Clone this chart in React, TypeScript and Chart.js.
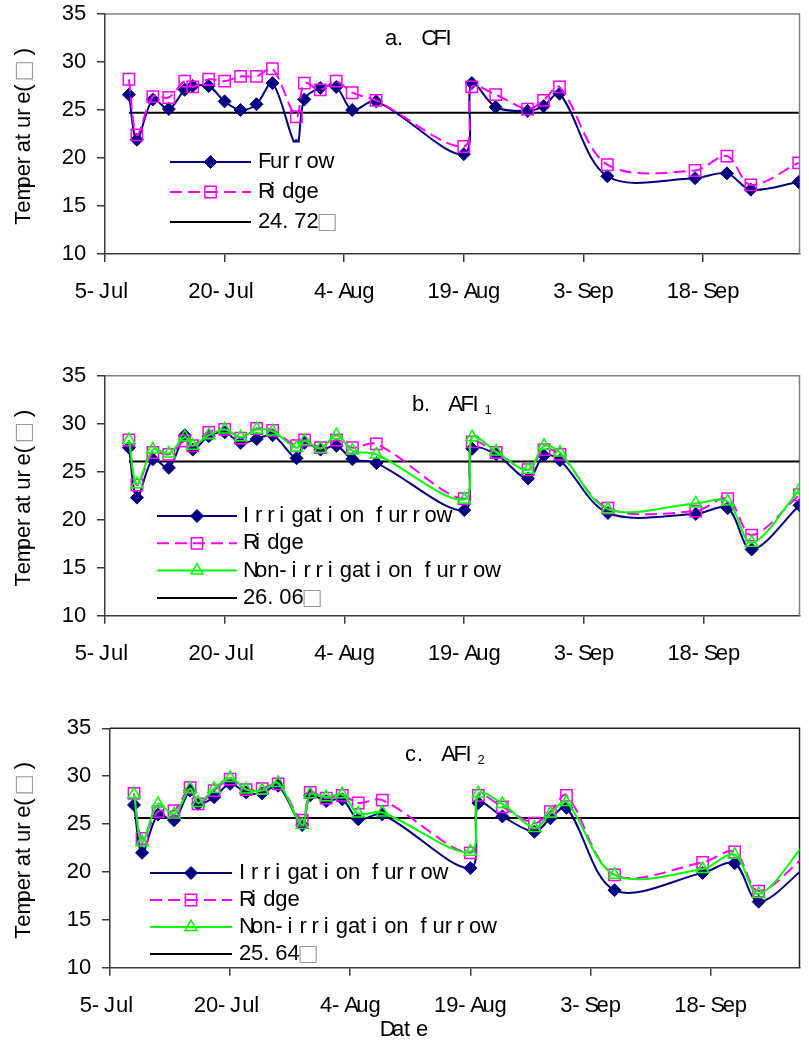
import React, { useEffect, useRef } from 'react';
import { Chart, registerables } from 'chart.js';

Chart.register(...registerables);

// Measurement dates of the season
const dates = ['8-Jul', '9-Jul', '11-Jul', '13-Jul', '15-Jul', '16-Jul', '18-Jul', '20-Jul', '22-Jul', '24-Jul', '26-Jul', '29-Jul', '30-Jul', '1-Aug', '3-Aug', '5-Aug', '8-Aug', '19-Aug', '20-Aug', '23-Aug', '27-Aug', '29-Aug', '31-Aug', '6-Sep', '17-Sep', '21-Sep', '24-Sep', '30-Sep'];
const tickLabels = ['5-Jul', '20-Jul', '4-Aug', '19-Aug', '3-Sep', '18-Sep'];
const yTicks = { min: 10, max: 35, step: 5 };

// a. CFI
const cfiFurrow = [26.6, 21.9, 26.1, 25.1, 27.1, 27.5, 27.5, 25.9, 25.0, 25.6, 27.8, 21.3, 26.1, 27.3, 27.4, 25.0, 25.9, 20.4, 27.8, 25.3, 24.9, 25.4, 26.7, 18.1, 17.9, 18.4, 16.7, 17.5];
const cfiRidge = [28.2, 22.4, 26.4, 26.3, 28.0, 27.4, 28.2, 28.0, 28.5, 28.5, 29.3, 24.3, 27.8, 27.1, 28.0, 26.8, 26.0, 21.2, 27.4, 26.6, 25.1, 26.0, 27.4, 19.3, 18.7, 20.2, 17.2, 19.5];
const cfiMean = 24.72;

// b. AFI1
const afi1Irrigated = [27.5, 22.3, 26.3, 25.4, 28.8, 27.3, 28.7, 29.1, 28.0, 28.4, 28.8, 26.4, 28.0, 27.3, 27.7, 26.3, 25.9, 21.0, 27.4, 26.8, 24.3, 26.7, 26.2, 20.7, 20.6, 21.2, 16.9, 21.5];
const afi1Ridge = [28.3, 23.6, 27.0, 26.8, 28.2, 27.7, 29.1, 29.4, 28.5, 29.5, 29.3, 27.7, 28.3, 27.5, 28.3, 27.5, 27.9, 22.2, 28.1, 27.0, 25.2, 27.3, 26.8, 21.2, 20.9, 22.2, 18.4, 22.6];
const afi1NonIrrigated = [28.3, 23.7, 27.3, 26.9, 28.6, 27.7, 28.8, 29.4, 28.6, 29.4, 29.2, 27.5, 28.2, 27.4, 28.8, 27.2, 26.8, 22.1, 28.6, 27.1, 25.2, 27.7, 27.0, 21.1, 21.7, 21.9, 17.6, 23.1];
const afi1Mean = 26.06;

// c. AFI2
const afi2Irrigated = [27.0, 22.0, 26.0, 25.4, 28.5, 27.1, 27.8, 29.2, 28.3, 28.2, 29.0, 24.9, 28.0, 27.4, 27.6, 25.5, 26.0, 20.4, 27.2, 25.8, 24.2, 25.6, 26.7, 18.1, 19.9, 20.9, 16.9, 20.6];
const afi2Ridge = [28.2, 23.5, 26.3, 26.4, 28.8, 27.1, 28.5, 29.7, 28.6, 28.7, 29.2, 25.4, 28.3, 27.7, 28.0, 27.2, 27.5, 22.0, 28.0, 26.8, 25.1, 26.3, 28.0, 19.7, 21.0, 22.1, 18.0, 21.8];
const afi2NonIrrigated = [28.1, 23.1, 27.1, 26.0, 28.7, 27.2, 28.7, 29.8, 28.6, 28.5, 29.3, 24.9, 28.1, 27.8, 28.1, 26.1, 26.2, 22.1, 28.2, 27.1, 24.6, 26.1, 27.3, 19.7, 20.3, 21.8, 17.7, 23.2];
const afi2Mean = 25.64;

// day offset counted from 5 July
const MONTH_OFFSET: Record<string, number> = { Jul: 0, Aug: 31, Sep: 62 };
const dayOf = (s: string) => {
  const [d, m] = s.split('-');
  return Number(d) + MONTH_OFFSET[m] - 5;
};
const days = dates.map(dayOf);
const tickDays = tickLabels.map(dayOf);

const FONT = '"Liberation Sans", Arial, Helvetica, sans-serif';
const TEXT_SIZE = 22;
const CELL = 12.1; // fixed character pitch for 22px text
const AXIS_COLOR = '#3a3a3a';

const STYLES: Record<string, any> = {
  furrow: { color: '#000080', point: 'rectRot', radius: 6.5, filled: true, dash: [], order: 2 },
  ridge: { color: '#FF00FF', point: 'rect', radius: 8, filled: false, dash: [12, 6], order: 1 },
  nonIrr: { color: '#00FF00', point: 'triangle', radius: 7, filled: false, dash: [], order: 0 },
};

const PANELS = [
  {
    canvasTop: 0, canvasH: 345, left: 105, right: 808, top: 14, bottom: 254, xMax: 87.1, frame: '#808080',
    title: 'a. CFI', sub: '', titleX: 385, titleY: 39,
    series: [
      { name: 'Furrow', style: 'furrow', values: cfiFurrow },
      { name: 'Ridge', style: 'ridge', values: cfiRidge },
    ],
    mean: cfiMean,
    legend: { x1: 170, x2: 251, tx: 258, y0: 162, gap: 30, filled: true },
    dateTitle: false,
  },
  {
    canvasTop: 345, canvasH: 345, left: 105, right: 807, top: 30.7, bottom: 270.7, xMax: 87.0, frame: '#808080',
    title: 'b. AFI', sub: '1', titleX: 412, titleY: 60,
    series: [
      { name: 'Irrigation furrow', style: 'furrow', values: afi1Irrigated },
      { name: 'Ridge', style: 'ridge', values: afi1Ridge },
      { name: 'Non-irrigation furrow', style: 'nonIrr', values: afi1NonIrrigated },
    ],
    mean: afi1Mean,
    legend: { x1: 157, x2: 237, tx: 243, y0: 171, gap: 27.3, filled: false },
    dateTitle: false,
  },
  {
    canvasTop: 690, canvasH: 352, left: 110, right: 809, top: 38.3, bottom: 277.7, xMax: 86.1, frame: '#202020',
    title: 'c. AFI', sub: '2', titleX: 405, titleY: 65,
    series: [
      { name: 'Irrigation furrow', style: 'furrow', values: afi2Irrigated },
      { name: 'Ridge', style: 'ridge', values: afi2Ridge },
      { name: 'Non-irrigation furrow', style: 'nonIrr', values: afi2NonIrrigated },
    ],
    mean: afi2Mean,
    legend: { x1: 150, x2: 232, tx: 239, y0: 183, gap: 27, filled: false },
    dateTitle: true,
  },
];

const cellCount = (text: string) => [...text].reduce((n, ch) => n + (ch === '□' ? 2 : 1), 0);

// Text laid out on a fixed character pitch; the degree box takes a double cell.
function drawPitched(ctx: CanvasRenderingContext2D, text: string, x: number, y: number, align = 'left', size = TEXT_SIZE, cell = CELL) {
  ctx.save();
  ctx.font = `${size}px ${FONT}`;
  ctx.textBaseline = 'middle';
  ctx.textAlign = 'left';
  let cx = x;
  const w = cellCount(text) * cell;
  if (align === 'center') cx = x - w / 2;
  if (align === 'right') cx = x - w;
  for (const ch of text) {
    if (ch === '□') {
      ctx.fillStyle = '#9a9a9a';
      ctx.font = `${Math.round(size * 1.3)}px ${FONT}`;
      ctx.fillText(ch, cx, y + 1);
      ctx.font = `${size}px ${FONT}`;
      cx += 2 * cell;
    } else {
      ctx.fillStyle = '#000';
      ctx.fillText(ch, cx, y);
      cx += cell;
    }
  }
  ctx.restore();
}

function drawMarker(ctx: CanvasRenderingContext2D, st: any, x: number, y: number) {
  ctx.save();
  ctx.setLineDash([]);
  ctx.strokeStyle = st.color;
  ctx.fillStyle = st.color;
  ctx.beginPath();
  const r = st.radius;
  if (st.point === 'rectRot') {
    ctx.moveTo(x - r, y); ctx.lineTo(x, y - r); ctx.lineTo(x + r, y); ctx.lineTo(x, y + r); ctx.closePath();
    ctx.lineWidth = 1; ctx.fill(); ctx.stroke();
  } else if (st.point === 'rect') {
    const h = Math.SQRT1_2 * r;
    ctx.rect(x - h, y - h, 2 * h, 2 * h);
    ctx.lineWidth = 1.5; ctx.stroke();
  } else {
    const step = (2 * Math.PI) / 3;
    ctx.moveTo(x, y - r);
    ctx.lineTo(x + Math.sin(step) * r, y - Math.cos(step) * r);
    ctx.lineTo(x + Math.sin(2 * step) * r, y - Math.cos(2 * step) * r);
    ctx.closePath();
    ctx.lineWidth = 1.5; ctx.stroke();
  }
  ctx.restore();
}

function makePlugin(p: any) {
  return {
    id: 'panelDecor',
    beforeDatasetsDraw(chart: any) {
      const { ctx, chartArea: a } = chart;
      ctx.save();
      ctx.strokeStyle = p.frame;
      ctx.lineWidth = 1.5;
      ctx.beginPath();
      ctx.moveTo(a.left, a.top);
      ctx.lineTo(a.right, a.top);
      ctx.lineTo(a.right, a.bottom);
      ctx.stroke();
      ctx.restore();
    },
    afterDraw(chart: any) {
      const { ctx, chartArea: a } = chart;
      const xs = chart.scales.x;
      const ys = chart.scales.y;

      xs.ticks.forEach((t: any, i: number) => {
        drawPitched(ctx, tickLabels[i], xs.getPixelForValue(t.value), a.bottom + 38, 'center');
      });
      ys.ticks.forEach((t: any) => {
        drawPitched(ctx, String(t.value), a.left - 19, ys.getPixelForValue(t.value), 'right');
      });

      // y-axis title
      ctx.save();
      ctx.translate(24, (a.top + a.bottom) / 2);
      ctx.rotate(-Math.PI / 2);
      drawPitched(ctx, 'Temperature(□)', 0, 0, 'center');
      ctx.restore();

      if (p.dateTitle) drawPitched(ctx, 'Date', 404, a.bottom + 62, 'center');

      // panel title with subscript
      drawPitched(ctx, p.title, p.titleX, p.titleY);
      if (p.sub) {
        drawPitched(ctx, p.sub, p.titleX + cellCount(p.title) * CELL, p.titleY + 5, 'left', 13, 7.5);
      }

      // legend
      const L = p.legend;
      const entries = [
        ...p.series.map((s: any) => ({ label: s.name, st: STYLES[s.style] })),
        { label: `${p.mean.toFixed(2)}□`, st: null },
      ];
      if (L.filled) {
        const maxCells = Math.max(...entries.map((e) => cellCount(e.label)));
        const top = L.y0 - L.gap * 0.65;
        const bottom = L.y0 + (entries.length - 1) * L.gap + L.gap * 0.6;
        ctx.save();
        ctx.fillStyle = '#fff';
        ctx.fillRect(L.x1 - 6, top, L.tx + maxCells * CELL + 6 - (L.x1 - 6), bottom - top);
        ctx.restore();
      }
      entries.forEach((e, i) => {
        const y = L.y0 + i * L.gap;
        ctx.save();
        ctx.strokeStyle = e.st ? e.st.color : '#000';
        ctx.lineWidth = 2;
        ctx.setLineDash(e.st ? e.st.dash : []);
        ctx.beginPath();
        ctx.moveTo(L.x1, y);
        ctx.lineTo(L.x2, y);
        ctx.stroke();
        ctx.restore();
        if (e.st) drawMarker(ctx, e.st, (L.x1 + L.x2) / 2, y);
        drawPitched(ctx, e.label, L.tx, y);
      });
    },
  };
}

function buildConfig(p: any) {
  const datasets: any[] = p.series.map((s: any) => {
    const st = STYLES[s.style];
    return {
      label: s.name,
      data: days.map((d, j) => ({ x: d, y: s.values[j] })),
      borderColor: st.color,
      backgroundColor: st.color,
      borderWidth: 2,
      borderDash: st.dash,
      tension: 0.33,
      pointStyle: st.point,
      pointRadius: st.radius,
      pointHoverRadius: st.radius,
      pointBackgroundColor: st.filled ? st.color : 'rgba(0,0,0,0)',
      pointBorderColor: st.color,
      pointBorderWidth: st.filled ? 1 : 1.5,
      order: st.order,
    };
  });
  datasets.push({
    label: `${p.mean.toFixed(2)}`,
    data: [{ x: days[0], y: p.mean }, { x: days[days.length - 1], y: p.mean }],
    borderColor: '#000',
    borderWidth: 2,
    pointRadius: 0,
    tension: 0,
    order: 10,
  });

  return {
    type: 'line',
    data: { datasets },
    plugins: [makePlugin(p)],
    options: {
      animation: false,
      responsive: false,
      maintainAspectRatio: false,
      devicePixelRatio: 1,
      events: [],
      layout: { padding: { top: p.top, right: 809 - p.right, left: 0, bottom: 0 } },
      plugins: { legend: { display: false }, tooltip: { enabled: false }, title: { display: false } },
      scales: {
        x: {
          type: 'linear',
          min: 0,
          max: p.xMax,
          afterBuildTicks: (s: any) => { s.ticks = tickDays.map((v) => ({ value: v })); },
          afterFit: (s: any) => { s.height = p.canvasH - p.bottom; },
          ticks: { display: false },
          grid: { drawOnChartArea: false, drawTicks: true, tickLength: 8, color: AXIS_COLOR, lineWidth: 1.5 },
          border: { display: true, color: AXIS_COLOR, width: 1.5 },
        },
        y: {
          type: 'linear',
          min: yTicks.min,
          max: yTicks.max,
          ticks: { display: false, stepSize: yTicks.step },
          afterFit: (s: any) => { s.width = p.left; },
          grid: { drawOnChartArea: false, drawTicks: true, tickLength: 8, color: AXIS_COLOR, lineWidth: 1.5 },
          border: { display: true, color: AXIS_COLOR, width: 1.5 },
        },
      },
    },
  };
}

function Panel({ p }: { p: any }) {
  const ref = useRef<HTMLCanvasElement>(null);
  useEffect(() => {
    const chart = new Chart(ref.current as HTMLCanvasElement, buildConfig(p) as any);
    return () => chart.destroy();
  }, [p]);
  return (
    <canvas
      ref={ref}
      width={809}
      height={p.canvasH}
      style={{ position: 'absolute', left: 0, top: p.canvasTop, width: 809, height: p.canvasH }}
    />
  );
}

export default function App() {
  return (
    <div style={{ position: 'absolute', left: 0, top: 0, width: 809, height: 1042, background: '#fff', overflow: 'hidden' }}>
      {PANELS.map((p, i) => (
        <Panel key={i} p={p} />
      ))}
    </div>
  );
}
